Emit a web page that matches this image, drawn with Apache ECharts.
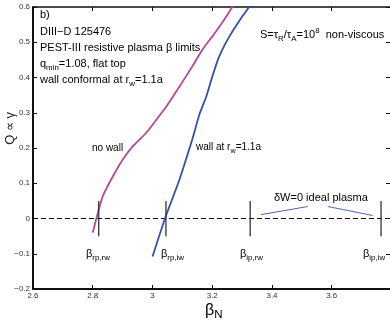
<!DOCTYPE html>
<html>
<head>
<meta charset="utf-8">
<script src="https://cdn.jsdelivr.net/npm/echarts@6/dist/echarts.min.js"></script>
<style>
html, body { margin: 0; background: #fff; }
#chart { width: 390px; height: 320px; }
</style>
</head>
<body>
<div id="chart"></div>
<script>
// β_N vs growth rate
const noWallBeta = [2.8, 2.813, 2.833, 2.867, 2.9, 2.933, 2.98, 3.02, 3.05, 3.09, 3.133, 3.167, 3.2, 3.233, 3.267, 3.28];
const noWallQ = [-0.04, 0.003, 0.062, 0.119, 0.167, 0.204, 0.244, 0.288, 0.322, 0.374, 0.431, 0.479, 0.516, 0.555, 0.6, 0.62];
const wallBeta = [3.0, 3.043, 3.09, 3.133, 3.157, 3.18, 3.2, 3.223, 3.257, 3.297, 3.323, 3.335];
const wallQ = [-0.108, 0.003, 0.11, 0.224, 0.295, 0.346, 0.402, 0.459, 0.516, 0.569, 0.6, 0.62];

// β limits marked on the Q=0 line
const limitBeta = [2.82, 3.045, 3.327, 3.765];
const limitHalf = 0.05;
// pointer lines from the "δW=0 ideal plasma" note
const pointerBeta = [[3.363, 3.52], [3.587, 3.737]];
const pointerQ = [[0.011, 0.034], [0.034, 0.0085]];

const xMin = 2.6, xMax = 3.795;
const yMin = -0.2, yMax = 0.6;

const font = 'Liberation Sans, Arial, sans-serif';
const ink = '#222';

const chart = echarts.init(document.getElementById('chart'));

const sub = (size, pad) => ({ fontSize: size, fontFamily: font, color: ink, padding: [pad, 0, 0, 0] });
const sup = (size, pad) => ({ fontSize: size, fontFamily: font, color: ink, padding: [0, 0, pad, 0] });
const txt = size => ({ fontSize: size, fontFamily: font, color: ink });

function label(x, y, text, size, align) {
  return {
    type: 'text', left: x, top: y, z: 10,
    style: {
      text: text, align: align || 'left', verticalAlign: 'middle',
      rich: { t: txt(size), s: sub(size * 0.72, 8), u: sup(size * 0.72, 7) }
    }
  };
}

const limitSeries = limitBeta.map(b => ({
  type: 'line', symbol: 'none', silent: true,
  lineStyle: { color: '#333', width: 1.3 },
  data: [[b, -limitHalf], [b, limitHalf]]
}));
const pointerSeries = pointerBeta.map((bs, i) => ({
  type: 'line', symbol: 'none', silent: true,
  lineStyle: { color: '#4a64b8', width: 1 },
  data: bs.map((b, j) => [b, pointerQ[i][j]])
}));

chart.setOption({
  animation: false,
  grid: { left: 33, right: -2, top: 7, bottom: 31 },
  xAxis: [{
    type: 'value', min: xMin, max: xMax, interval: 0.2,
    axisLine: { onZero: false, lineStyle: { color: '#111', width: 2 } },
    axisTick: { inside: true, length: 4, lineStyle: { color: '#111' } },
    axisLabel: { fontSize: 8, color: '#333', fontFamily: font, margin: 3,
      showMaxLabel: false },
    splitLine: { show: false }
  }, {
    type: 'value', position: 'top', min: xMin, max: xMax, interval: 0.2,
    axisLine: { onZero: false, lineStyle: { color: '#111', width: 1.5 } },
    axisTick: { inside: true, length: 4, lineStyle: { color: '#111' } },
    axisLabel: { show: false }, splitLine: { show: false }
  }],
  yAxis: [{
    type: 'value', min: yMin, max: yMax, interval: 0.1,
    axisLine: { onZero: false, lineStyle: { color: '#111', width: 2 } },
    axisTick: { inside: true, length: 4, lineStyle: { color: '#111' } },
    axisLabel: { fontSize: 8, color: '#333', fontFamily: font, margin: 3,
      formatter: v => (Math.round(v * 10) / 10).toString().replace('-', '\u2212') },
    splitLine: { show: false }
  }, {
    type: 'value', position: 'right', min: yMin, max: yMax, interval: 0.1,
    axisLine: { show: false, onZero: false },
    axisTick: { inside: true, length: 4, lineStyle: { color: '#111' } },
    axisLabel: { show: false }, splitLine: { show: false }
  }],
  series: [
    {
      type: 'line', symbol: 'none', silent: true,
      lineStyle: { color: '#000', width: 1, type: [5, 3] },
      data: [[xMin, 0], [xMax, 0]]
    },
    {
      name: 'no wall', type: 'line', symbol: 'none', smooth: 0.2,
      lineStyle: { color: '#b9479e', width: 1.8 },
      data: noWallBeta.map((b, i) => [b, noWallQ[i]])
    },
    {
      name: 'wall at rw=1.1a', type: 'line', symbol: 'none', smooth: 0.2,
      lineStyle: { color: '#3550a8', width: 1.8 },
      data: wallBeta.map((b, i) => [b, wallQ[i]])
    }
  ].concat(limitSeries, pointerSeries),
  graphic: [
    label(40, 9, '{t|b)}', 11),
    label(40, 26, '{t|DIII\u2212D 125476}', 11),
    label(40, 42, '{t|PEST-III resistive plasma \u03b2 limits}', 11),
    label(40, 58, '{t|q}{s|min}{t|=1.08, flat top}', 11),
    label(40, 74, '{t|wall conformal at r}{s|w}{t|=1.1a}', 11),
    label(260, 27, '{t|S=\u03c4}{s|R}{t|/\u03c4}{s|A}{t|=10}{u|8}{t|  non-viscous}', 11),
    label(92, 143, '{t|no wall}', 10),
    label(196, 142, '{t|wall at r}{s|w}{t|=1.1a}', 10),
    label(274, 192, '{t|\u03b4W=0 ideal plasma}', 11),
    label(86, 248, '{t|\u03b2}{s|rp,rw}', 11),
    label(161, 248, '{t|\u03b2}{s|rp,iw}', 11),
    label(240, 248, '{t|\u03b2}{s|ip,rw}', 11),
    label(363, 248, '{t|\u03b2}{s|ip,iw}', 11),
    label(205, 303, '{t|\u03b2}{s|N}', 16),
    {
      type: 'text', left: 4, top: 112, rotation: Math.PI / 2,
      style: { text: 'Q \u221d \u03b3', fontSize: 13, fontFamily: font, fill: ink }
    }
  ]
});
</script>
</body>
</html>
